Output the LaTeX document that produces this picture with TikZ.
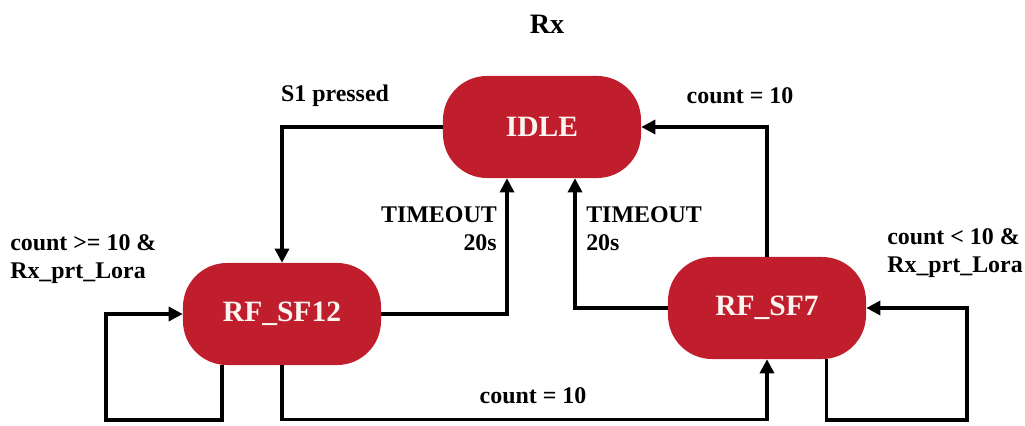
\documentclass[tikz,border=0pt]{standalone}
\usepackage{fontspec}
\setmainfont{Liberation Serif}
\usetikzlibrary{arrows.meta}
\usetikzlibrary{calc}
\definecolor{zustand}{RGB}{192, 30, 45}
\definecolor{schrift}{RGB}{250, 245, 240}

\begin{document}
\begin{tikzpicture}[x=0.025cm, y=-0.025cm,
    state/.style={fill=zustand, draw=none, rounded corners=1.1cm, minimum width=4.95cm, minimum height=2.55cm,
        text=schrift, font=\fontsize{21}{24}\selectfont\bfseries},
    lbl/.style={font=\fontsize{17}{20}\selectfont\bfseries, inner sep=0pt},
    pfeil/.style={line width=2.3pt, -{Triangle[length=10pt, width=10pt]}}]

    \useasboundingbox (0,0) rectangle (1025,426);

    \node[font=\fontsize{20}{24}\selectfont\bfseries] (titel) at (547,24) {Rx};

    % Zustaende
    \node[state] (idle) at (542,127) {IDLE};
    \node[state] (sf12) at (282,314) {RF\_SF12};
    \node[state] (sf7)  at (767,308) {RF\_SF7};

    % Hilfspunkte fuer die Schleifen
    \coordinate (loopL) at (106,420);
    \coordinate (loopR) at (967,420);

    % Uebergaenge
    \draw[pfeil] (idle.west) -| (sf12.north);
    \draw[pfeil] (sf12.east) -| ([xshift=-0.875cm]idle.south);
    \draw[pfeil] (sf7.west) -| ([xshift=0.825cm]idle.south);
    \draw[pfeil] (sf7.north) |- (idle.east);
    \draw[pfeil] ([xshift=-1.5cm]sf12.south) |- (loopL) |- (sf12.west);
    \draw[pfeil] (sf12.south) -- ++(0,54) -| (sf7.south);
    \draw[pfeil] ([xshift=1.48cm]sf7.south) |- (loopR) |- (sf7.east);

    % Beschriftungen
    \node[lbl] (s1) at (335,96) {S1 pressed};
    \node[lbl] (cnt1) at (740,96) {count = 10};
    \node[lbl, anchor=east, align=right] (toL) at (497,229) {TIMEOUT\\20s};
    \node[lbl, anchor=west, align=left] (toR) at (586,229) {TIMEOUT\\20s};
    \node[lbl, anchor=west, align=left] (cntL) at (10,259) {count >= 10 \&\\Rx\_prt\_Lora};
    \node[lbl, anchor=west, align=left] (cntR) at (887,253) {count < 10 \&\\Rx\_prt\_Lora};
    \node[lbl] (cnt2) at (533,396) {count = 10};

\end{tikzpicture}
\end{document}
